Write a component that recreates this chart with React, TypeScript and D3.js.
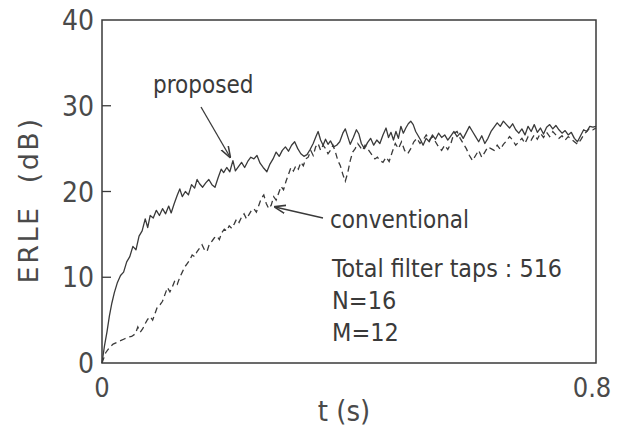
import React from "react"
import * as d3 from "d3"

// time axis (s) and ERLE (dB)
const tProposed = [0,0.004,0.008,0.012,0.016,0.020,0.025,0.030,0.035,0.040,0.045,0.050,0.055,0.060,0.065,0.070,0.074,0.078,0.083,0.088,0.093,0.098,0.103,0.108,0.112,0.117,0.122,0.126,0.130,0.135,0.140,0.145,0.150,0.154,0.158,0.163,0.168,0.173,0.178,0.183,0.188,0.193,0.197,0.202,0.207,0.212,0.216,0.221,0.226,0.231,0.236,0.241,0.246,0.251,0.256,0.261,0.267,0.272,0.277,0.282,0.287,0.292,0.297,0.302,0.307,0.312,0.317,0.322,0.327,0.332,0.337,0.342,0.347,0.350,0.354,0.358,0.362,0.366,0.370,0.375,0.380,0.385,0.390,0.394,0.398,0.402,0.407,0.412,0.416,0.420,0.425,0.430,0.435,0.440,0.445,0.450,0.455,0.460,0.464,0.468,0.472,0.476,0.480,0.484,0.488,0.492,0.496,0.500,0.504,0.508,0.512,0.516,0.520,0.525,0.530,0.535,0.540,0.545,0.550,0.555,0.560,0.565,0.570,0.575,0.580,0.585,0.590,0.595,0.600,0.605,0.610,0.615,0.620,0.625,0.630,0.635,0.640,0.645,0.650,0.655,0.660,0.665,0.670,0.675,0.680,0.685,0.690,0.695,0.700,0.705,0.710,0.715,0.720,0.725,0.730,0.735,0.740,0.745,0.750,0.755,0.760,0.765,0.770,0.775,0.780,0.785,0.790,0.795,0.800]
const erleProposed = [0,2.0,3.6,5.5,7.0,8.2,9.4,10.2,10.6,11.8,12.4,13.6,13.2,14.8,15.4,16.8,15.8,17.2,16.9,17.8,17.2,18.0,17.4,18.3,17.5,18.6,19.6,20.3,19.4,20.0,19.6,20.8,20.4,21.4,20.9,20.5,21.0,21.4,20.8,20.5,21.6,22.6,22.2,22.8,22.3,23.6,22.4,22.9,23.4,22.8,23.5,24.0,23.8,24.2,23.3,22.8,22.3,23.2,23.8,24.6,24.1,24.8,25.2,24.7,25.4,25.8,25.0,24.4,24.1,24.3,24.9,25.6,26.5,27.0,26.0,25.4,26.1,25.5,25.9,25.2,25.4,25.8,26.8,27.3,26.4,25.5,26.3,27.2,26.7,25.6,25.0,25.7,26.2,25.4,26.0,25.6,26.6,27.4,26.3,26.9,26.0,27.0,26.2,27.6,26.8,27.4,27.9,28.2,27.8,27.0,26.5,26.0,25.4,26.2,25.8,26.6,26.1,26.8,26.3,26.6,26.0,26.5,27.0,26.4,26.8,26.2,26.9,27.6,27.0,26.4,25.8,26.5,25.6,26.2,27.0,27.5,28.0,27.6,28.2,27.8,27.4,27.9,27.2,26.8,27.3,26.6,27.6,27.0,27.8,26.9,27.4,26.7,27.5,27.8,27.3,27.7,27.2,26.8,27.1,26.6,26.9,26.2,25.8,26.5,27.2,27.0,27.6,27.5,27.6]

const tConventional = [0,0.006,0.012,0.018,0.024,0.030,0.036,0.042,0.048,0.054,0.058,0.062,0.066,0.070,0.074,0.078,0.082,0.086,0.090,0.094,0.098,0.102,0.106,0.110,0.114,0.118,0.122,0.126,0.130,0.134,0.138,0.142,0.146,0.150,0.154,0.158,0.162,0.166,0.170,0.174,0.178,0.182,0.186,0.190,0.194,0.198,0.202,0.206,0.210,0.214,0.218,0.222,0.226,0.230,0.234,0.238,0.242,0.246,0.250,0.254,0.258,0.262,0.266,0.270,0.274,0.278,0.282,0.286,0.290,0.294,0.298,0.302,0.306,0.310,0.314,0.318,0.322,0.326,0.330,0.334,0.338,0.342,0.346,0.350,0.354,0.358,0.362,0.366,0.370,0.374,0.378,0.382,0.386,0.390,0.394,0.398,0.402,0.406,0.410,0.414,0.418,0.422,0.426,0.430,0.434,0.438,0.442,0.446,0.450,0.455,0.460,0.465,0.470,0.475,0.480,0.485,0.490,0.495,0.500,0.505,0.510,0.515,0.520,0.525,0.530,0.535,0.540,0.545,0.550,0.555,0.560,0.565,0.570,0.575,0.580,0.585,0.590,0.595,0.600,0.605,0.610,0.615,0.620,0.625,0.630,0.635,0.640,0.645,0.650,0.655,0.660,0.665,0.670,0.675,0.680,0.685,0.690,0.695,0.700,0.705,0.710,0.715,0.720,0.725,0.730,0.735,0.740,0.745,0.750,0.755,0.760,0.765,0.770,0.775,0.780,0.785,0.790,0.795,0.800]
const erleConventional = [0,1.2,1.8,2.2,2.4,2.6,2.8,3.0,3.1,3.4,4.2,3.6,4.0,4.6,5.1,5.4,5.0,5.8,6.6,6.8,7.2,8.0,8.8,8.3,8.9,9.6,9.2,10.0,10.6,11.2,11.6,12.0,12.6,12.4,13.0,13.4,13.8,13.2,13.0,13.9,14.2,14.6,14.8,14.4,15.2,15.6,15.4,16.0,15.7,16.2,16.8,16.4,17.0,17.4,16.8,17.3,17.8,18.0,17.6,18.4,19.2,19.6,18.6,18.0,18.4,19.4,19.0,19.8,20.6,20.2,21.2,22.0,22.8,22.4,23.0,22.6,23.4,23.0,23.8,24.0,24.8,24.2,25.2,25.6,24.8,25.4,25.0,24.4,24.8,25.4,24.6,23.6,23.0,22.0,21.2,22.2,23.6,24.6,25.0,25.6,25.2,24.8,25.4,25.0,24.6,24.2,23.8,24.0,23.6,23.4,24.0,23.5,24.6,25.6,25.0,25.8,24.8,24.4,25.0,25.8,26.2,25.6,26.0,26.6,26.0,26.4,25.8,25.2,24.8,25.4,24.9,25.6,26.8,27.0,26.2,25.6,25.0,24.2,23.6,24.2,24.8,24.0,24.6,25.2,25.0,24.8,25.4,24.9,25.5,25.9,26.4,26.0,25.4,25.8,26.2,25.6,26.4,26.0,26.6,26.1,26.8,26.3,26.9,26.4,27.0,26.6,26.2,26.5,26.0,26.4,26.1,25.8,25.5,26.0,26.6,27.0,27.4,27.2,27.4]

const yTicks = [0, 10, 20, 30, 40]
const xTickLabels = ["0", "0.8"]
const noteLines = ["Total filter taps : 516", "N=16", "M=12"]

const W = 621, H = 435
const left = 102, right = 596, top = 20, bottom = 363
const ink = "#3a3a3a"
const font = "'Liberation Sans Narrow', 'DejaVu Sans Condensed', 'Liberation Sans', sans-serif"

export default function App() {
  const x = d3.scaleLinear().domain([0, 0.8]).range([left, right])
  const y = d3.scaleLinear().domain([0, 40]).range([bottom, top])

  const line = d3.line<[number, number]>().x(d => x(d[0])).y(d => y(d[1]))
  const propPath = line(tProposed.map((t, i) => [t, erleProposed[i]]))
  const convPath = line(tConventional.map((t, i) => [t, erleConventional[i]]))

  return (
    <svg width={W} height={H} style={{ position: "absolute", left: 0, top: 0, background: "#fff" }}>
      <defs>
        <marker id="ah" viewBox="0 0 10 10" refX="9" refY="5" markerWidth="9" markerHeight="9" orient="auto">
          <path d="M0,1.5 L10,5 L0,8.5" fill="none" stroke={ink} strokeWidth="1.3" />
        </marker>
      </defs>

      {/* frame */}
      <rect x={left} y={top} width={right - left} height={bottom - top} fill="none" stroke={ink} strokeWidth={1.5} />

      {/* y ticks and labels */}
      {yTicks.map(v => (
        <g key={v}>
          {v > 0 && v < 40 && <line x1={left} x2={left + 9} y1={y(v)} y2={y(v)} stroke={ink} strokeWidth={1.3} />}
          <text x={94} y={y(v)} dy="0.36em" textAnchor="end" fontFamily={font} fontSize={28} fill="#4a4a4a">{v}</text>
        </g>
      ))}

      {/* x tick labels */}
      {xTickLabels.map((s, i) => (
        <text key={s} x={i === 0 ? x(0) : x(0.8) - 4} y={397} textAnchor="middle" fontFamily={font} fontSize={27} fill="#4a4a4a">{s}</text>
      ))}

      {/* axis titles */}
      <text x={344} y={421} textAnchor="middle" fontFamily={font} fontSize={29} fill="#4a4a4a">t (s)</text>
      <text transform={`translate(38,200) rotate(-90)`} textAnchor="middle" fontFamily="'DejaVu Sans', sans-serif" fontSize={27}
        letterSpacing={2.5} fill="#4a4a4a" style={{ whiteSpace: "pre" }}>ERLE  (dB)</text>

      {/* curves */}
      <path d={propPath ?? ""} fill="none" stroke={ink} strokeWidth={1.3} strokeLinejoin="round" />
      <path d={convPath ?? ""} fill="none" stroke={ink} strokeWidth={1.3} strokeDasharray="6,4" />

      {/* annotations */}
      <text x={153} y={93} fontFamily={font} fontSize={24} fill="#3a3a3a">proposed</text>
      <line x1={201} y1={107} x2={230} y2={157} stroke={ink} strokeWidth={1.3} markerEnd="url(#ah)" />
      <text x={330} y={228} fontFamily={font} fontSize={24} fill="#3a3a3a">conventional</text>
      <line x1={323} y1={218} x2={275} y2={207} stroke={ink} strokeWidth={1.3} markerEnd="url(#ah)" />

      {noteLines.map((s, i) => (
        <text key={s} x={332} y={277 + i * 32} fontFamily={font} fontSize={25} fill="#3a3a3a"
          textLength={i === 0 ? 230 : undefined} lengthAdjust="spacingAndGlyphs">{s}</text>
      ))}
    </svg>
  )
}
